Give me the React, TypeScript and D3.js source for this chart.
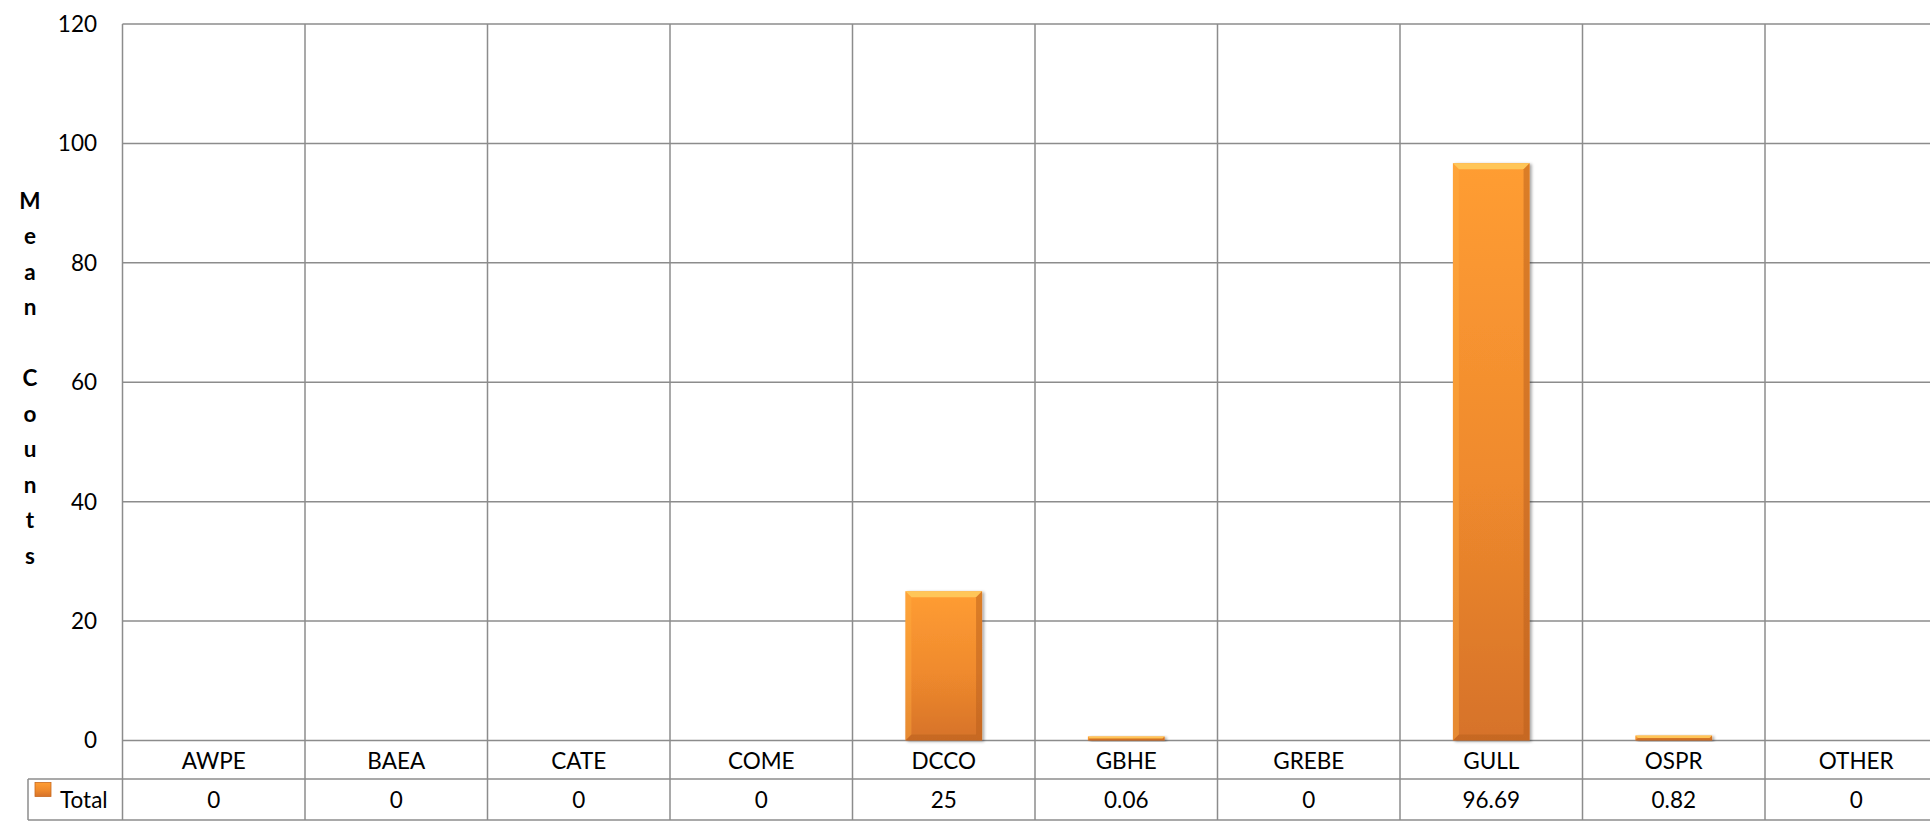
import { useEffect, useRef } from 'react';
import * as d3 from 'd3';

// data
const categories = ['AWPE', 'BAEA', 'CATE', 'COME', 'DCCO', 'GBHE', 'GREBE', 'GULL', 'OSPR', 'OTHER'];
const totals = [0, 0, 0, 0, 25, 0.06, 0, 96.69, 0.82, 0];
const totalLabels = ['0', '0', '0', '0', '25', '0.06', '0', '96.69', '0.82', '0'];
const yTicks = [0, 20, 40, 60, 80, 100, 120];
const seriesName = 'Total';
const yTitle = 'Mean Counts';

const WIDTH = 1930;
const HEIGHT = 821;
const FONT = 'Lato, "Open Sans", sans-serif';
const FONT_SIZE = 22.5;
const GRID = '#8c8c8c';

const App = () => {
  const ref = useRef<SVGSVGElement | null>(null);

  useEffect(() => {
    const svg = d3.select(ref.current);
    svg.selectAll('*').remove();

    const left = 122.5;
    const step = 182.5;
    const right = left + step * categories.length; // runs past the window edge, as in the original
    const top = 24;
    const bottom = 740.5;
    const row1 = 779;
    const row2 = 820;
    const legendLeft = 28;

    const x = d3
      .scaleBand<string>()
      .domain(categories)
      .range([left, right])
      .paddingInner(0.58)
      .paddingOuter(0.29);

    const y = d3.scaleLinear().domain([0, 120]).range([bottom, top]);

    const defs = svg.append('defs');
    const grad = defs
      .append('linearGradient')
      .attr('id', 'barGrad')
      .attr('x1', 0)
      .attr('y1', 0)
      .attr('x2', 0)
      .attr('y2', 1);
    grad.append('stop').attr('offset', '0%').attr('stop-color', '#ff9d33');
    grad.append('stop').attr('offset', '55%').attr('stop-color', '#ef8a2d');
    grad.append('stop').attr('offset', '100%').attr('stop-color', '#d6722a');

    const shadow = defs.append('filter').attr('id', 'barShadow').attr('x', '-20%').attr('y', '-20%').attr('width', '140%').attr('height', '140%');
    shadow
      .append('feDropShadow')
      .attr('dx', 2)
      .attr('dy', 1)
      .attr('stdDeviation', 1.5)
      .attr('flood-color', '#000')
      .attr('flood-opacity', 0.35);

    // grid
    const grid = svg.append('g').attr('stroke', GRID).attr('stroke-width', 1.5);
    yTicks.forEach(t => {
      grid.append('line').attr('x1', left).attr('x2', right).attr('y1', y(t)).attr('y2', y(t));
    });
    const boundaries = categories.map(c => x(c)! - (x.step() - x.bandwidth()) / 2).concat([right]);
    boundaries.forEach(b => {
      grid.append('line').attr('x1', b).attr('x2', b).attr('y1', top).attr('y2', row2);
    });

    // table lines
    grid.append('line').attr('x1', legendLeft).attr('x2', right).attr('y1', row1).attr('y2', row1);
    grid.append('line').attr('x1', legendLeft).attr('x2', right).attr('y1', row2).attr('y2', row2);
    grid.append('line').attr('x1', legendLeft).attr('x2', legendLeft).attr('y1', row1).attr('y2', row2);

    const text = (sel: d3.Selection<any, any, any, any>) =>
      sel.attr('font-family', FONT).attr('font-size', FONT_SIZE).attr('fill', '#000');

    // y tick labels
    svg
      .append('g')
      .selectAll('text')
      .data(yTicks)
      .join('text')
      .attr('x', 97)
      .attr('y', d => y(d))
      .attr('dy', '0.35em')
      .attr('text-anchor', 'end')
      .call(text)
      .text(d => d);

    // y title, stacked letters
    svg
      .append('g')
      .selectAll('text')
      .data(yTitle.split(''))
      .join('text')
      .attr('x', 30)
      .attr('y', (_, i) => 201 + i * 35.5)
      .attr('dy', '0.35em')
      .attr('text-anchor', 'middle')
      .call(text)
      .attr('font-weight', 'bold')
      .text(d => d);

    // bars
    const bars = svg.append('g');
    categories.forEach((c, i) => {
      const v = totals[i];
      if (v <= 0) return;
      const x0 = x(c)!;
      const w = x.bandwidth();
      const y0 = Math.min(y(v), bottom - 4);
      const h = bottom - y0;
      const b = Math.min(6, h / 2);
      const g = bars.append('g').attr('filter', 'url(#barShadow)');
      g.append('rect').attr('x', x0).attr('y', y0).attr('width', w).attr('height', h).attr('fill', 'url(#barGrad)');
      // bevel: top highlight
      g.append('path')
        .attr('d', `M${x0},${y0}L${x0 + w},${y0}L${x0 + w - b},${y0 + b}L${x0 + b},${y0 + b}Z`)
        .attr('fill', '#ffc85c')
        .attr('opacity', 0.95);
      // right edge darker
      g.append('path')
        .attr('d', `M${x0 + w},${y0}L${x0 + w},${bottom}L${x0 + w - b},${bottom - b}L${x0 + w - b},${y0 + b}Z`)
        .attr('fill', '#b85e1e')
        .attr('opacity', 0.5);
      // left edge slightly lighter
      g.append('path')
        .attr('d', `M${x0},${y0}L${x0 + b},${y0 + b}L${x0 + b},${bottom - b}L${x0},${bottom}Z`)
        .attr('fill', '#ffb040')
        .attr('opacity', 0.4);
      // bottom edge darker
      g.append('path')
        .attr('d', `M${x0},${bottom}L${x0 + b},${bottom - b}L${x0 + w - b},${bottom - b}L${x0 + w},${bottom}Z`)
        .attr('fill', '#a9551b')
        .attr('opacity', 0.35);
    });

    // category labels
    svg
      .append('g')
      .selectAll('text')
      .data(categories)
      .join('text')
      .attr('x', d => x(d)! + x.bandwidth() / 2)
      .attr('y', (bottom + row1) / 2 + 1)
      .attr('dy', '0.35em')
      .attr('text-anchor', 'middle')
      .call(text)
      .text(d => d);

    // value row
    svg
      .append('g')
      .selectAll('text')
      .data(categories)
      .join('text')
      .attr('x', d => x(d)! + x.bandwidth() / 2)
      .attr('y', (row1 + row2) / 2 + 1)
      .attr('dy', '0.35em')
      .attr('text-anchor', 'middle')
      .call(text)
      .text((_, i) => totalLabels[i]);

    // legend key in the table
    svg
      .append('rect')
      .attr('x', 35)
      .attr('y', 782.5)
      .attr('width', 16)
      .attr('height', 14)
      .attr('fill', 'url(#barGrad)')
      .attr('stroke', '#c9691f')
      .attr('stroke-width', 0.8);
    svg
      .append('text')
      .attr('x', 60)
      .attr('y', (row1 + row2) / 2 + 1)
      .attr('dy', '0.35em')
      .call(text)
      .text(seriesName);
  }, []);

  return (
    <svg
      ref={ref}
      width={WIDTH}
      height={HEIGHT}
      style={{ position: 'absolute', left: 0, top: 0, background: '#fff', overflow: 'hidden' }}
    ></svg>
  );
};

export default App;
